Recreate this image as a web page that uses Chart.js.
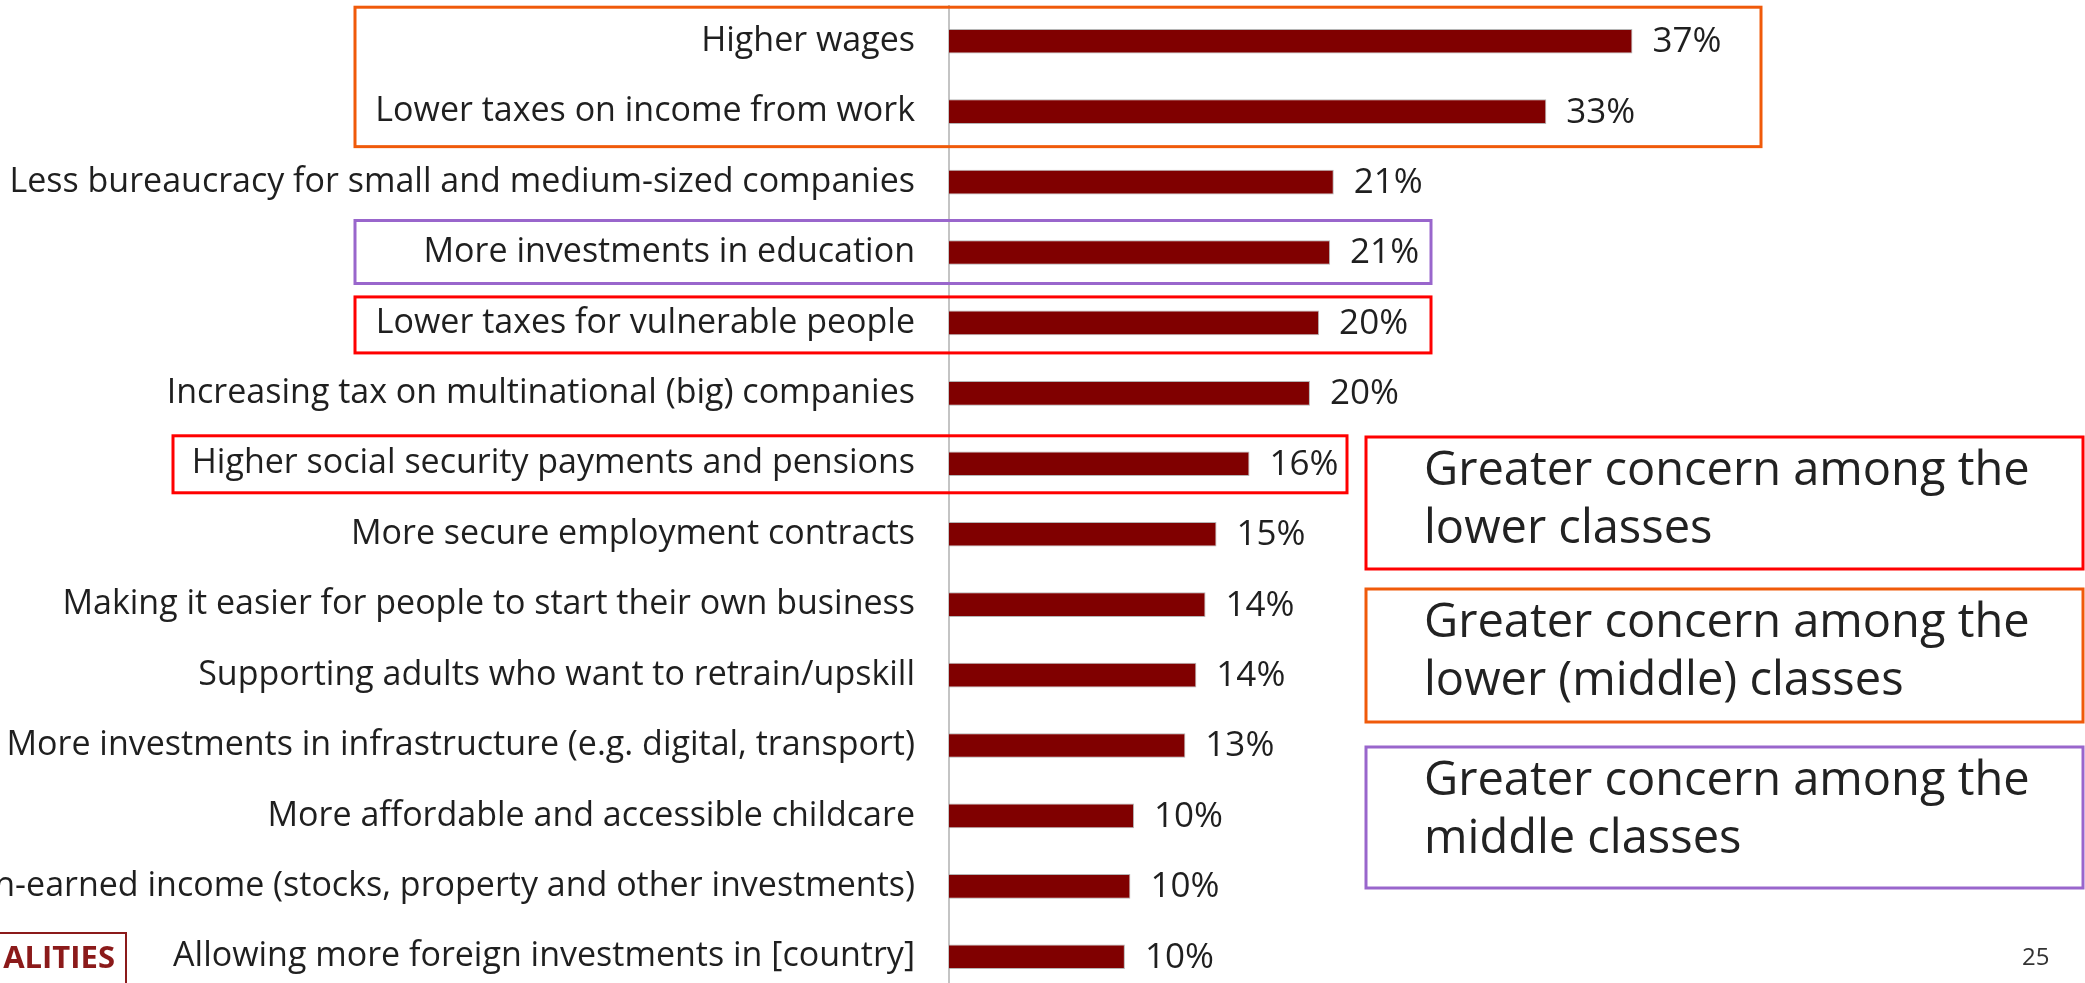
<!DOCTYPE html>
<html><head><meta charset="utf-8">
<script src="https://cdn.jsdelivr.net/npm/chart.js@4.4.0/dist/chart.umd.min.js"></script>
<style>
html,body{margin:0;padding:0;overflow:hidden;background:#fff;}
#wrap{position:absolute;left:0;top:0;width:2085px;height:1000px;}
</style></head><body>
<div id="wrap"><canvas id="chart"></canvas></div>
<script>
const categories = [
  'Higher wages',
  'Lower taxes on income from work',
  'Less bureaucracy for small and medium-sized companies',
  'More investments in education',
  'Lower taxes for vulnerable people',
  'Increasing tax on multinational (big) companies',
  'Higher social security payments and pensions',
  'More secure employment contracts',
  'Making it easier for people to start their own business',
  'Supporting adults who want to retrain/upskill',
  'More investments in infrastructure (e.g. digital, transport)',
  'More affordable and accessible childcare',
  'Higher taxes on non-earned income (stocks, property and other investments)',
  'Allowing more foreign investments in [country]'
];
const shares = [37.3, 32.6, 21.0, 20.8, 20.2, 19.7, 16.4, 14.6, 14.0, 13.5, 12.9, 10.1, 9.9, 9.6];

// rows wrapped by a coloured outline (first row, last row)
const boxRows = [[0,1],[3,3],[4,4],[6,6]];
const boxColors = ['#F05A0A','#9966CC','#FF0000','#FF0000'];
const noteLines = [
  ['Greater concern among the','lower classes'],
  ['Greater concern among the','lower (middle) classes'],
  ['Greater concern among the','middle classes']
];
const noteColors = ['#FF0000','#F05A0A','#9966CC'];

const FONT = '"Open Sans", Lato, sans-serif';

const extras = {
  id:'extras',
  afterDraw(chart){
    const {ctx, scales:{y}} = chart;
    const meta = chart.getDatasetMeta(0);
    ctx.save();
    // value labels
    ctx.font = `35px ${FONT}`; ctx.fillStyle = '#1f1f1f';
    ctx.textAlign = 'left'; ctx.textBaseline = 'middle';
    meta.data.forEach((bar,i)=> ctx.fillText(Math.round(shares[i])+'%', bar.x+20, bar.y+1));

    // row outlines
    const spans = [[355,1761,34,35],[355,1431,32,31],[355,1431,26,30],[173,1347,28,29]];
    ctx.lineWidth = 3;
    boxRows.forEach((r,i)=>{
      const [l,rt,pt,pb] = spans[i];
      const top = y.getPixelForValue(r[0])-pt, bot = y.getPixelForValue(r[1])+pb;
      ctx.strokeStyle = boxColors[i];
      ctx.strokeRect(l, top, rt-l, bot-top);
    });

    // legend notes on the right
    const noteTops = [437,589,747], noteH = [132,133,141];
    ctx.font = `47px ${FONT}`; ctx.fillStyle = '#222';
    noteLines.forEach((lines,i)=>{
      ctx.strokeStyle = noteColors[i];
      ctx.strokeRect(1366, noteTops[i], 2083-1366, noteH[i]);
      lines.forEach((t,j)=> ctx.fillText(t, 1424, noteTops[i]+35+j*58));
    });

    // page number and logo fragment
    ctx.font = `24px ${FONT}`; ctx.fillStyle = '#333';
    ctx.fillText('25', 2022, 958);
    ctx.strokeStyle = '#8B1A1A'; ctx.lineWidth = 2;
    ctx.strokeRect(-5, 933, 131, 80);
    ctx.font = `bold 31px ${FONT}`; ctx.fillStyle = '#8B1A1A'; ctx.textAlign = 'right';
    ctx.fillText('ALITIES', 115, 959);
    ctx.restore();
  }
};

new Chart(document.getElementById('chart').getContext('2d'), {
  type:'bar',
  data:{ labels:categories, datasets:[{ data:shares, backgroundColor:'#800000', borderColor:'rgba(150,150,150,0.7)', borderWidth:1, borderSkipped:'start', barPercentage:0.35, categoryPercentage:1 }] },
  options:{
    indexAxis:'y', responsive:true, maintainAspectRatio:false, animation:false,
    layout:{ padding:{ top:6, bottom:8, left:0, right:0 } },
    plugins:{ legend:{display:false}, tooltip:{enabled:false} },
    scales:{
      x:{ display:false, min:0, max:62 },
      y:{
        grid:{ display:true, drawOnChartArea:false, drawTicks:true, tickLength:34, tickColor:'rgba(0,0,0,0)' },
        border:{ display:true, color:'#c4c4c4', width:2 },
        ticks:{ padding:0, color:'#1f1f1f', font:{ family:FONT, size:34 }, autoSkip:false },
        afterFit(scale){ scale.width = 949; scale.paddingTop = 0; scale.paddingBottom = 0; }
      }
    }
  },
  plugins:[extras]
});
</script>
</body></html>
